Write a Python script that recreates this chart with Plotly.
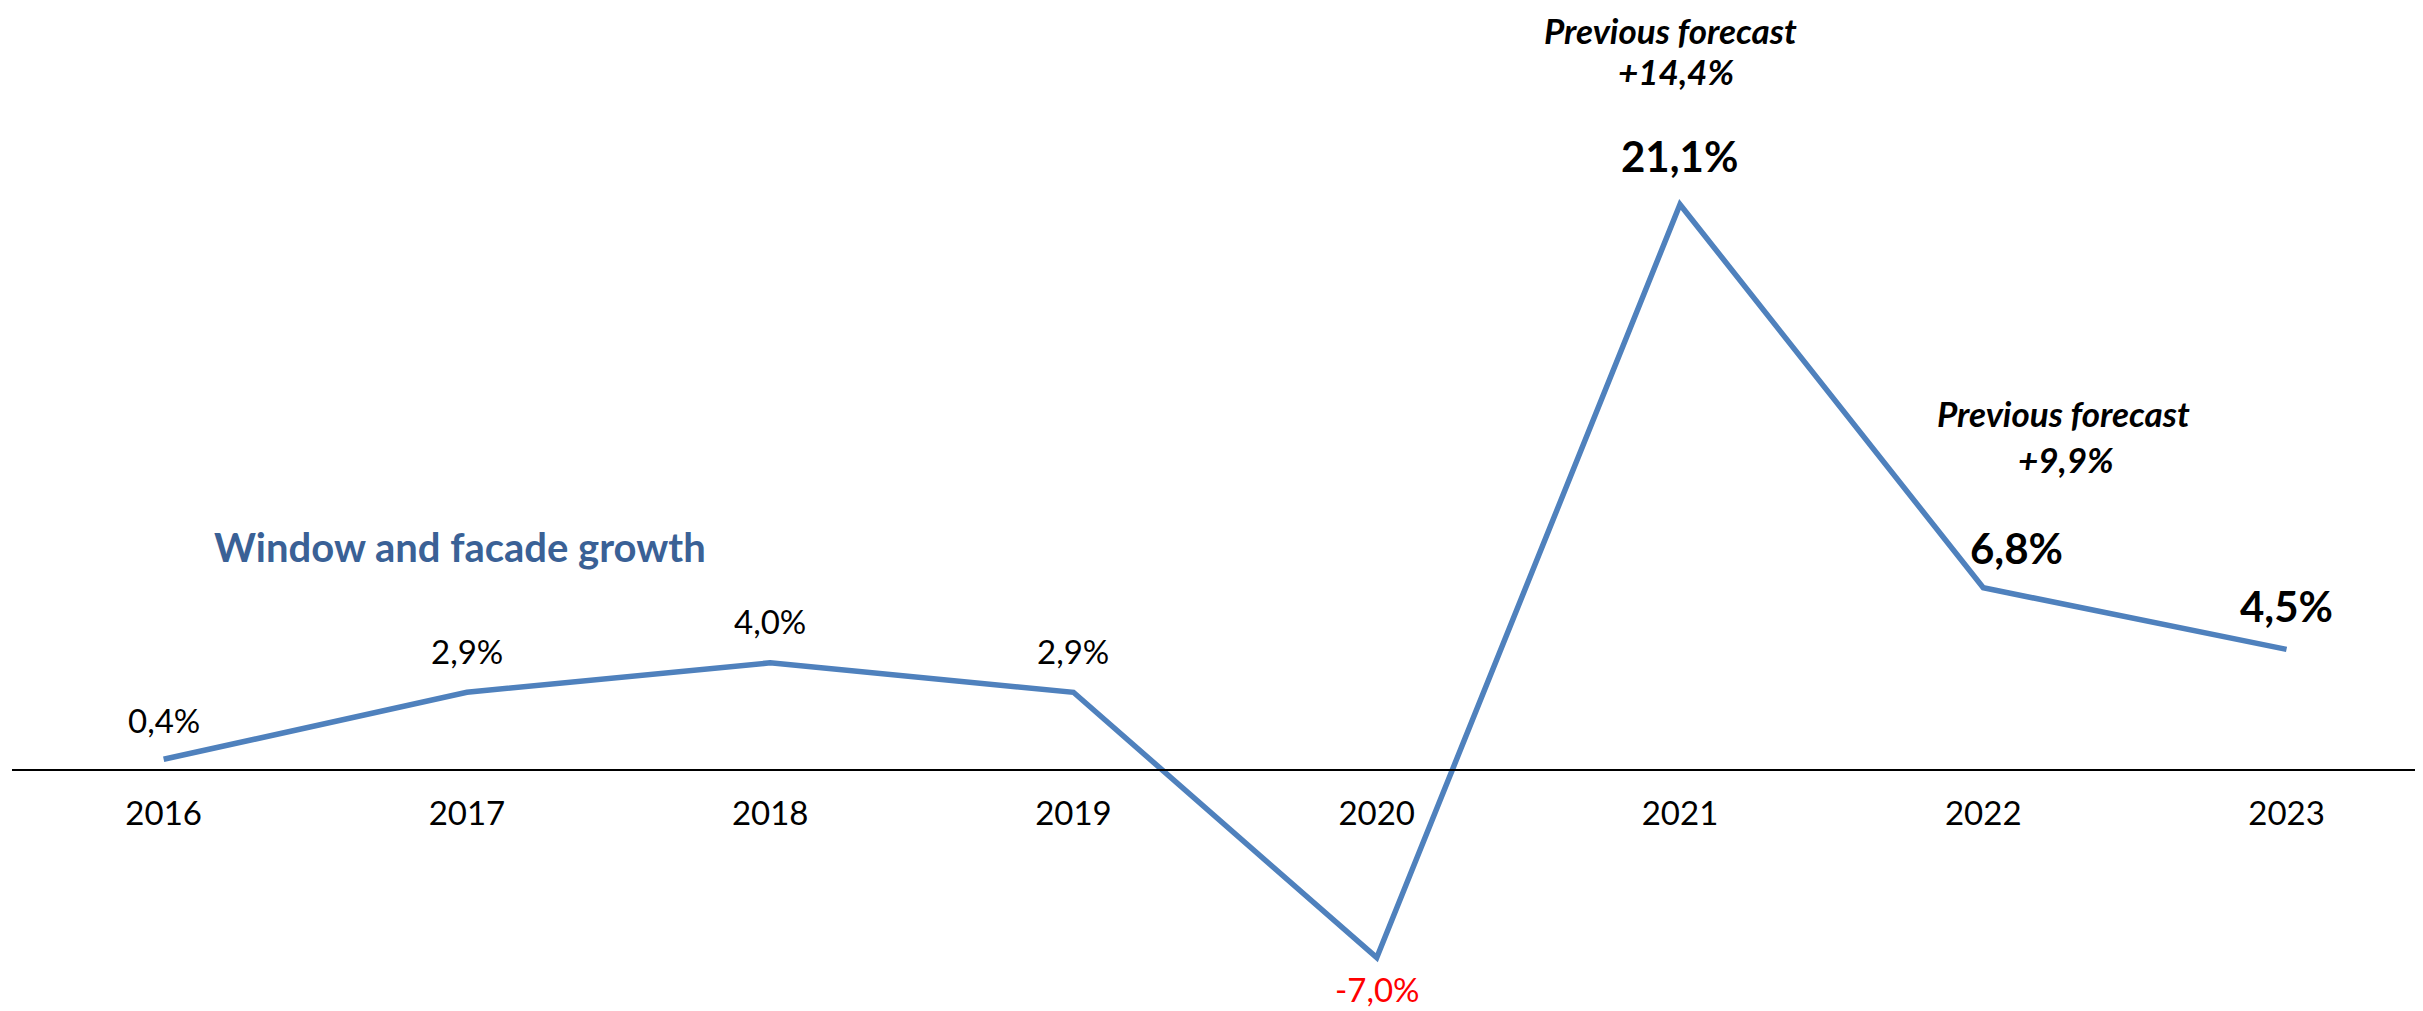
import plotly.graph_objects as go

# ---- data ----
years = ['2016', '2017', '2018', '2019', '2020', '2021', '2022', '2023']
growth = [0.4, 2.9, 4.0, 2.9, -7.0, 21.1, 6.8, 4.5]
labels = ['0,4%', '2,9%', '4,0%', '2,9%', '-7,0%', '21,1%', '6,8%', '4,5%']
prev_years = ['2021', '2022']
prev_forecast = ['+14,4%', '+9,9%']

LINE_BLUE = '#4F81BD'
TITLE_BLUE = '#3A6196'
FONT = 'Lato'

# page body has an 8px margin, so the figure is sized to fit inside it
W, H = 2415, 1003
# y range chosen so that the zero line sits where the reference has it
Y_MIN, Y_MAX = -8.99, 28.43

fig = go.Figure()
fig.add_scatter(x=list(range(len(years))), y=growth, mode='lines',
                line=dict(color=LINE_BLUE, width=5.5), showlegend=False,
                hoverinfo='skip')

# value labels (regular for history, bold for the recent years)
label_style = {
    # year: (size, bold, colour, xshift, yshift)
    '2016': (33, False, '#000000', 0, 39),
    '2017': (33, False, '#000000', 0, 41),
    '2018': (33, False, '#000000', 0, 42),
    '2019': (33, False, '#000000', 0, 41),
    '2020': (33, False, '#FF0000', 0, -31),
    '2021': (42, True, '#000000', 0, 48),
    '2022': (42, True, '#000000', 33, 40),
    '2023': (42, True, '#000000', 0, 43),
}
for i, (yr, v, txt) in enumerate(zip(years, growth, labels)):
    size, bold, col, xs, ys = label_style[yr]
    fig.add_annotation(x=i, y=v, xref='x', yref='y', showarrow=False,
                       text=f'<b>{txt}</b>' if bold else txt,
                       font=dict(family=FONT, size=size, color=col),
                       xshift=xs, yshift=ys, xanchor='center', yanchor='middle',
                       borderpad=0)

# "Previous forecast" notes above 2021 and 2022
note_shift = {'2021': (-9, 174, -4, 133), '2022': (80, 175, 83, 129)}
for yr, pf in zip(prev_years, prev_forecast):
    i = years.index(yr)
    v = growth[i]
    xs1, ys1, xs2, ys2 = note_shift[yr]
    fig.add_annotation(x=i, y=v, showarrow=False,
                       text='<b><i>Previous forecast</i></b>',
                       font=dict(family=FONT, size=35, color='#000000'),
                       xshift=xs1, yshift=ys1, yanchor='middle', borderpad=0)
    fig.add_annotation(x=i, y=v, showarrow=False,
                       text=f'<b><i>{pf}</i></b>',
                       font=dict(family=FONT, size=35, color='#000000'),
                       xshift=xs2, yshift=ys2, yanchor='middle', borderpad=0)

fig.add_annotation(x=449 / W, y=1 - 539 / H, xref='paper', yref='paper',
                   showarrow=False, text='<b>Window and facade growth</b>',
                   font=dict(family=FONT, size=40, color=TITLE_BLUE),
                   xanchor='center', yanchor='middle')

zero_pos = (0 - Y_MIN) / (Y_MAX - Y_MIN)

fig.update_layout(
    width=W, height=H,
    margin=dict(l=4, r=0, t=0, b=0),
    paper_bgcolor='white', plot_bgcolor='white',
    xaxis=dict(tickmode='array', tickvals=list(range(len(years))),
               ticktext=years, range=[-0.5, 7.45],
               anchor='free', position=zero_pos,
               showline=True, linecolor='#000000', linewidth=2,
               showgrid=False, zeroline=False, ticks='',
               ticklabelstandoff=14,
               tickfont=dict(family=FONT, size=33, color='#000000')),
    yaxis=dict(range=[Y_MIN, Y_MAX], visible=False, showgrid=False,
               zeroline=False),
    showlegend=False,
)

fig.write_html("out.html")
